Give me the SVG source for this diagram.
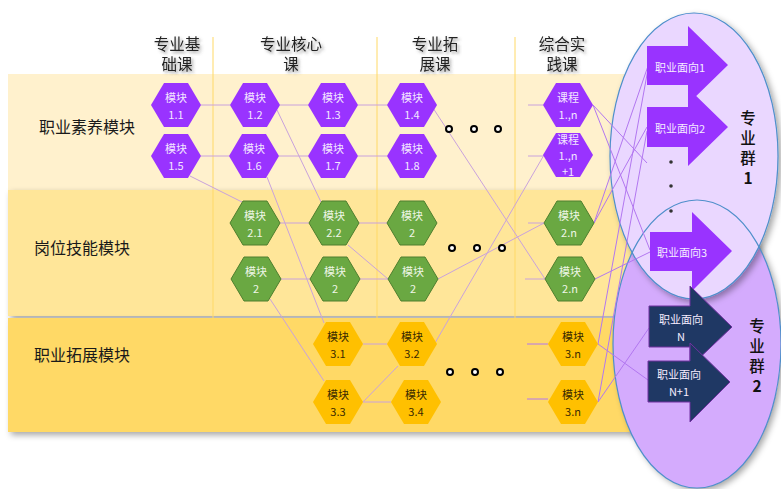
<svg xmlns="http://www.w3.org/2000/svg" xmlns:xlink="http://www.w3.org/1999/xlink" width="781" height="489" viewBox="0 0 781 489">
<defs>
<style>
text{font-family:"Noto Sans CJK SC","Liberation Sans",sans-serif}
.hd{font-size:15.5px;fill:#222;text-anchor:middle;dominant-baseline:central}
.lb{font-size:16px;fill:#1a1a1a;text-anchor:middle;dominant-baseline:central}
.ht{font-size:11px;text-anchor:middle;dominant-baseline:central}
.pu{fill:#9933FF}
.gr{fill:#6AA842;stroke:#4E7F2E;stroke-width:1}
.ye{fill:#FFC000}
.tw{fill:#F3E6FF}
.tg{fill:#EEF6E6}
.td{fill:#3a2a00}
.vl{stroke:#FFD966;stroke-width:1}
.cn{stroke:#C9A2DC;stroke-width:1;fill:none}
.cr{stroke:#B277F0;stroke-width:1;fill:none}
.dot{fill:#fff;stroke:#000;stroke-width:2}
.at{font-size:11px;fill:#F6EDFF;dominant-baseline:central}
.gt{font-size:15.5px;fill:#111;text-anchor:middle;dominant-baseline:central;font-weight:500}
.gn{font-weight:bold}
</style>
<path id="hex" d="M-25,0 L-12,-22 L12,-22 L25,0 L12,22 L-12,22 Z"/>
<filter id="sh" x="-10%" y="-10%" width="130%" height="130%"><feDropShadow dx="3" dy="3" stdDeviation="3" flood-color="#000" flood-opacity="0.35"/></filter>
<filter id="ts" x="-20%" y="-20%" width="150%" height="160%"><feDropShadow dx="2" dy="2" stdDeviation="1.5" flood-color="#555" flood-opacity="0.6"/></filter>
</defs>
<rect width="781" height="489" fill="#fff"/>
<g id="bands">
<rect x="8" y="74" width="652" height="116" fill="#FFF1CD"/>
<rect x="8" y="190" width="652" height="126" fill="#FFE699" filter="url(#sh)"/>
<rect x="8" y="318" width="652" height="114" fill="#FFD966" filter="url(#sh)"/>
</g>
<g id="dividers">
<line class="vl" x1="213" y1="37" x2="213" y2="420"/>
<line class="vl" x1="377" y1="37" x2="377" y2="420"/>
<line class="vl" x1="515" y1="37" x2="515" y2="420"/>
</g>
<g id="headers" filter="url(#ts)">
<text class="hd" x="177" y="43">专业基</text><text class="hd" x="177" y="63">础课</text>
<text class="hd" x="291" y="43">专业核心</text><text class="hd" x="291" y="63">课</text>
<text class="hd" x="435" y="43">专业拓</text><text class="hd" x="435" y="63">展课</text>
<text class="hd" x="562" y="43">综合实</text><text class="hd" x="562" y="63">践课</text>
</g>
<g id="rowlabels">
<text class="lb" x="87" y="126">职业素养模块</text>
<text class="lb" x="82" y="247">岗位技能模块</text>
<text class="lb" x="82" y="354">职业拓展模块</text>
</g>
<g id="group2">
<ellipse cx="697" cy="344" rx="84" ry="144" fill="#D4ABFD" filter="url(#sh)"/>
</g>
<g id="group1">
<ellipse cx="694" cy="156" rx="84" ry="143" fill="#EAD7FF" stroke="#4F8FCB" stroke-width="1.2" filter="url(#sh)"/>
<ellipse cx="697" cy="344" rx="84" ry="144" fill="none" stroke="#4F8FCB" stroke-width="1.2"/>
</g>
<g id="connectors">
<line class="cn" x1="201" y1="105" x2="230" y2="105"/>
<line class="cn" x1="280" y1="105" x2="308" y2="105"/>
<line class="cn" x1="358" y1="105" x2="387" y2="105"/>
<line class="cn" x1="201" y1="156" x2="229" y2="156"/>
<line class="cn" x1="279" y1="156" x2="308" y2="156"/>
<line class="cn" x1="358" y1="156" x2="387" y2="156"/>
<line class="cn" x1="280" y1="223" x2="309" y2="223"/>
<line class="cn" x1="359" y1="223" x2="387" y2="223"/>
<line class="cn" x1="281" y1="279" x2="310" y2="279"/>
<line class="cn" x1="360" y1="279" x2="388" y2="279"/>
<line class="cn" x1="363" y1="344" x2="387" y2="344"/>
<line class="cn" x1="363" y1="402" x2="391" y2="402"/>
<line class="cn" x1="528" y1="105" x2="543" y2="105"/>
<line class="cn" x1="528" y1="156" x2="543" y2="156"/>
<line class="cn" x1="528" y1="223" x2="544" y2="223"/>
<line class="cn" x1="525" y1="279" x2="545" y2="279"/>
<line class="cr" x1="527" y1="344" x2="548" y2="344"/>
<line class="cr" x1="527" y1="399" x2="548" y2="399"/>
<line class="cn" x1="190" y1="176" x2="242" y2="202"/>
<line class="cn" x1="277" y1="110" x2="321" y2="202"/>
<line class="cn" x1="267" y1="177" x2="324" y2="323"/>
<line class="cn" x1="270" y1="299" x2="324" y2="381"/>
<line class="cn" x1="348" y1="245" x2="388" y2="279"/>
<line class="cn" x1="433" y1="108" x2="545" y2="279"/>
<line class="cn" x1="438" y1="279" x2="544" y2="223"/>
<line class="cn" x1="435" y1="343" x2="544" y2="155"/>
<line class="cn" x1="363" y1="402" x2="398" y2="366"/>
<line class="cr" x1="593" y1="105" x2="647" y2="163"/>
<line class="cr" x1="593" y1="105" x2="650" y2="250"/>
<line class="cr" x1="594" y1="223" x2="647" y2="127"/>
<line class="cr" x1="594" y1="223" x2="648" y2="66"/>
<line class="cr" x1="595" y1="279" x2="650" y2="252"/>
<line class="cr" x1="598" y1="344" x2="648" y2="380"/>
<line class="cr" x1="598" y1="344" x2="648" y2="69"/>
<line class="cr" x1="598" y1="402" x2="649" y2="328"/>
<line class="cr" x1="598" y1="402" x2="647" y2="131"/>
</g>
<g id="n1-1"><use href="#hex" x="176" y="105" class="pu"/><text class="ht tw" x="176" y="97">模块</text><text class="ht tw" x="176" y="114">1.1</text></g>
<g id="n1-2"><use href="#hex" x="255" y="105" class="pu"/><text class="ht tw" x="255" y="97">模块</text><text class="ht tw" x="255" y="114">1.2</text></g>
<g id="n1-3"><use href="#hex" x="333" y="105" class="pu"/><text class="ht tw" x="333" y="97">模块</text><text class="ht tw" x="333" y="114">1.3</text></g>
<g id="n1-4"><use href="#hex" x="412" y="105" class="pu"/><text class="ht tw" x="412" y="97">模块</text><text class="ht tw" x="412" y="114">1.4</text></g>
<g id="c1"><use href="#hex" x="568" y="105" class="pu"/><text class="ht tw" x="568" y="97">课程</text><text class="ht tw" x="568" y="114">1.,n</text></g>
<g id="n1-5"><use href="#hex" x="176" y="156" class="pu"/><text class="ht tw" x="176" y="148">模块</text><text class="ht tw" x="176" y="165">1.5</text></g>
<g id="n1-6"><use href="#hex" x="254" y="156" class="pu"/><text class="ht tw" x="254" y="148">模块</text><text class="ht tw" x="254" y="165">1.6</text></g>
<g id="n1-7"><use href="#hex" x="333" y="156" class="pu"/><text class="ht tw" x="333" y="148">模块</text><text class="ht tw" x="333" y="165">1.7</text></g>
<g id="n1-8"><use href="#hex" x="412" y="156" class="pu"/><text class="ht tw" x="412" y="148">模块</text><text class="ht tw" x="412" y="165">1.8</text></g>
<g id="c2"><use href="#hex" x="568" y="155" class="pu"/><text class="ht tw" x="568" y="139" font-size="10.5">课程</text><text class="ht tw" x="568" y="155" font-size="10.5">1.,n</text><text class="ht tw" x="568" y="171" font-size="10.5">+1</text></g>
<g id="n2-1"><use href="#hex" x="255" y="223" class="gr"/><text class="ht tg" x="255" y="215">模块</text><text class="ht tg" x="255" y="232">2.1</text></g>
<g id="n2-2"><use href="#hex" x="334" y="223" class="gr"/><text class="ht tg" x="334" y="215">模块</text><text class="ht tg" x="334" y="232">2.2</text></g>
<g id="n2-3"><use href="#hex" x="412" y="223" class="gr"/><text class="ht tg" x="412" y="215">模块</text><text class="ht tg" x="412" y="232">2</text></g>
<g id="n2-n1"><use href="#hex" x="569" y="223" class="gr"/><text class="ht tg" x="569" y="215">模块</text><text class="ht tg" x="569" y="232">2.n</text></g>
<g id="n2-4"><use href="#hex" x="256" y="279" class="gr"/><text class="ht tg" x="256" y="271">模块</text><text class="ht tg" x="256" y="288">2</text></g>
<g id="n2-5"><use href="#hex" x="335" y="279" class="gr"/><text class="ht tg" x="335" y="271">模块</text><text class="ht tg" x="335" y="288">2</text></g>
<g id="n2-6"><use href="#hex" x="413" y="279" class="gr"/><text class="ht tg" x="413" y="271">模块</text><text class="ht tg" x="413" y="288">2</text></g>
<g id="n2-n2"><use href="#hex" x="570" y="279" class="gr"/><text class="ht tg" x="570" y="271">模块</text><text class="ht tg" x="570" y="288">2.n</text></g>
<g id="n3-1"><use href="#hex" x="338" y="344" class="ye"/><text class="ht td" x="338" y="336">模块</text><text class="ht td" x="338" y="353">3.1</text></g>
<g id="n3-2"><use href="#hex" x="412" y="344" class="ye"/><text class="ht td" x="412" y="336">模块</text><text class="ht td" x="412" y="353">3.2</text></g>
<g id="n3-n1"><use href="#hex" x="573" y="344" class="ye"/><text class="ht td" x="573" y="336">模块</text><text class="ht td" x="573" y="353">3.n</text></g>
<g id="n3-3"><use href="#hex" x="338" y="402" class="ye"/><text class="ht td" x="338" y="394">模块</text><text class="ht td" x="338" y="411">3.3</text></g>
<g id="n3-4"><use href="#hex" x="416" y="402" class="ye"/><text class="ht td" x="416" y="394">模块</text><text class="ht td" x="416" y="411">3.4</text></g>
<g id="n3-n2"><use href="#hex" x="573" y="402" class="ye"/><text class="ht td" x="573" y="394">模块</text><text class="ht td" x="573" y="411">3.n</text></g>
<g id="ellipsis">
<circle class="dot" cx="449" cy="129" r="3"/><circle class="dot" cx="474" cy="129" r="3"/><circle class="dot" cx="498" cy="129" r="3"/>
<circle class="dot" cx="452" cy="248" r="3"/><circle class="dot" cx="477" cy="248" r="3"/><circle class="dot" cx="502" cy="248" r="3"/>
<circle class="dot" cx="450" cy="372" r="3"/><circle class="dot" cx="475" cy="372" r="3"/><circle class="dot" cx="500" cy="372" r="3"/>
<circle cx="671" cy="162" r="1.8" fill="#333"/><circle cx="671" cy="186" r="1.8" fill="#333"/><circle cx="671" cy="211" r="1.8" fill="#333"/>
</g>
<g id="a1"><polygon points="647,46 688,46 688,26 728,65 688,104 688,85 647,85" fill="#9933FF"/><text class="at" x="655" y="67">职业面向1</text></g>
<g id="a2"><polygon points="647,107 688,107 688,88 728,127 688,166 688,147 647,147" fill="#9933FF"/><text class="at" x="655" y="128">职业面向2</text></g>
<g id="a3"><polygon points="650,232 692,232 692,212 732,251 692,291 692,271 650,271" fill="#9933FF"/><text class="at" x="657" y="252">职业面向3</text></g>
<g id="aN"><polygon points="649,306 690,306 690,286 732,327 690,367 690,347 649,347" fill="#1F3864" stroke="#7030A0" stroke-width="1"/><text class="at" x="681" y="319" text-anchor="middle">职业面向</text><text class="at" x="681" y="336" text-anchor="middle">N</text></g>
<g id="aN1"><polygon points="648,361 690,361 690,343 730,382 690,422 690,402 648,402" fill="#1F3864" stroke="#7030A0" stroke-width="1"/><text class="at" x="679" y="374" text-anchor="middle">职业面向</text><text class="at" x="679" y="391" text-anchor="middle">N+1</text></g>
<g id="g1label"><text class="gt" x="748" y="117">专</text><text class="gt" x="748" y="137">业</text><text class="gt" x="748" y="157">群</text><text class="gt gn" x="748" y="177">1</text></g>
<g id="g2label"><text class="gt" x="757" y="325">专</text><text class="gt" x="757" y="345">业</text><text class="gt" x="757" y="365">群</text><text class="gt gn" x="757" y="385">2</text></g>
</svg>
